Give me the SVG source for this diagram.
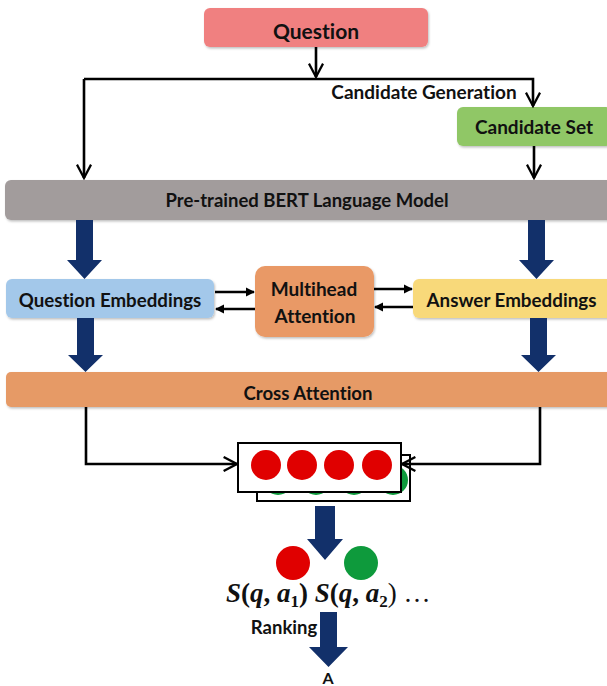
<svg xmlns="http://www.w3.org/2000/svg" width="607" height="686" viewBox="0 0 607 686">
<defs>
<style>
.lbl{font-family:Lato,"Liberation Sans",Arial,sans-serif;font-weight:bold;fill:#111;text-anchor:middle;font-variant-ligatures:none;font-feature-settings:"liga" 0}
.thin{fill:none;stroke:#000;stroke-width:2.6}
.blue{fill:#12306A}
.math{font-family:"Liberation Serif","Times New Roman",serif;font-weight:bold;fill:#111;font-size:27px}
</style>
<marker id="chev" viewBox="0 0 12 12" refX="10.5" refY="6" markerWidth="6.5" markerHeight="6.5" markerUnits="strokeWidth" orient="auto">
<path d="M1,1 L10.5,6 L1,11" fill="none" stroke="#000" stroke-width="1.6"/>
</marker>
<marker id="tri" viewBox="0 0 10 10" refX="9" refY="5" markerWidth="3.5" markerHeight="3.5" markerUnits="strokeWidth" orient="auto">
<path d="M0,0 L10,5 L0,10 Z" fill="#000"/>
</marker>
<filter id="sh" x="-5%" y="-20%" width="110%" height="140%">
<feDropShadow dx="1" dy="1.5" stdDeviation="1.2" flood-color="#000" flood-opacity="0.25"/>
</filter>
</defs>
<rect width="607" height="686" fill="#fff"/>

<g id="question"><rect x="204" y="8" width="224" height="39" rx="6" fill="#F08080" filter="url(#sh)"/><text class="lbl" x="316" y="38.5" font-size="21">Question</text></g>
<g id="candidate-set"><rect x="457" y="107" width="155" height="39" rx="6" fill="#90C766" filter="url(#sh)"/><text class="lbl" x="534" y="134" font-size="19">Candidate Set</text></g>
<g id="bert"><rect x="5" y="180" width="610" height="40" rx="6" fill="#A29C9C" filter="url(#sh)"/><text class="lbl" x="307" y="207" font-size="18.5">Pre-trained BERT Language Model</text></g>
<g id="question-embeddings"><rect x="6" y="279" width="208" height="39" rx="6" fill="#A3C8EA" filter="url(#sh)"/><text class="lbl" x="110" y="306.5" font-size="18.7">Question Embeddings</text></g>
<g id="multihead-attention"><rect x="255" y="266" width="119" height="71" rx="10" fill="#E99966" filter="url(#sh)"/><text class="lbl" x="314" y="296" font-size="19">Multihead</text><text class="lbl" x="315" y="323" font-size="19">Attention</text></g>
<g id="answer-embeddings"><rect x="413" y="279" width="200" height="39" rx="6" fill="#F8D97A" filter="url(#sh)"/><text class="lbl" x="511.5" y="306.5" font-size="18.8">Answer Embeddings</text></g>
<g id="cross-attention"><rect x="6" y="372" width="610" height="35" rx="5" fill="#E69A66" filter="url(#sh)"/><text class="lbl" x="308" y="400" font-size="18.6">Cross Attention</text></g>

<g id="score-matrix">
<rect x="257" y="455" width="153" height="46" fill="#fff" stroke="#000" stroke-width="2"/>
<circle cx="278" cy="480" r="15" fill="#0E9A3C"/><circle cx="316" cy="480" r="15" fill="#0E9A3C"/><circle cx="354" cy="480" r="15" fill="#0E9A3C"/><circle cx="393" cy="480" r="15" fill="#0E9A3C"/>
<rect x="238" y="443" width="163" height="49" fill="#fff" stroke="#000" stroke-width="2"/>
<circle cx="266" cy="465" r="15" fill="#E00000"/><circle cx="302" cy="465" r="15" fill="#E00000"/><circle cx="339" cy="465" r="15" fill="#E00000"/><circle cx="377" cy="465" r="15" fill="#E00000"/>
</g>

<g id="scores">
<circle cx="293" cy="563" r="17" fill="#E00000"/>
<circle cx="361" cy="563" r="17" fill="#0E9A3C"/>
<text class="math" x="226" y="602"><tspan font-style="italic">S</tspan>(<tspan font-style="italic">q</tspan>, <tspan font-style="italic">a</tspan><tspan font-size="17" dy="5">1</tspan><tspan dy="-5">)</tspan> <tspan font-style="italic">S</tspan>(<tspan font-style="italic">q</tspan>, <tspan font-style="italic">a</tspan><tspan font-size="17" dy="5">2</tspan><tspan dy="-5" font-weight="normal">) …</tspan></text>
</g>
<g id="answer"><text class="lbl" x="328" y="684" font-size="16">A</text></g>

<g id="connectors">
<path class="thin" d="M316,47 V77" marker-end="url(#chev)"/>
<path class="thin" d="M84,79 H533 V106" marker-end="url(#chev)"/>
<path class="thin" d="M84,79 V178" marker-end="url(#chev)"/>
<text class="lbl" x="424" y="98.5" font-size="19">Candidate Generation</text>
<path class="thin" d="M534,146 V178" marker-end="url(#chev)"/>
<path class="thin" d="M86,407 V464 H237" marker-end="url(#chev)"/>
<path class="thin" d="M540,407 V464 H402" marker-end="url(#chev)"/>
<path class="thin" d="M215,292 H254" marker-end="url(#tri)"/>
<path class="thin" d="M255,309 H216" marker-end="url(#tri)"/>
<path class="thin" d="M374,289 H412" marker-end="url(#tri)"/>
<path class="thin" d="M413,307 H375" marker-end="url(#tri)"/>
<path class="blue" d="M76,220 H93 V260 H102 L84.5,279 L67,260 H76 Z"/>
<path class="blue" d="M528,220 H545 V260 H554 L536.5,279 L519,260 H528 Z"/>
<path class="blue" d="M77,318 H94 V355 H103 L85.5,372 L68,355 H77 Z"/>
<path class="blue" d="M530,318 H547 V355 H556 L538.5,372 L521,355 H530 Z"/>
<path class="blue" d="M315,506 H335 V539 H343 L325,560 L307,539 H315 Z"/>
<path class="blue" d="M320,612 H337 V647 H348 L328.5,667 L309,647 H320 Z"/>
<text class="lbl" x="284" y="634" font-size="18.5">Ranking</text>
</g>
</svg>
